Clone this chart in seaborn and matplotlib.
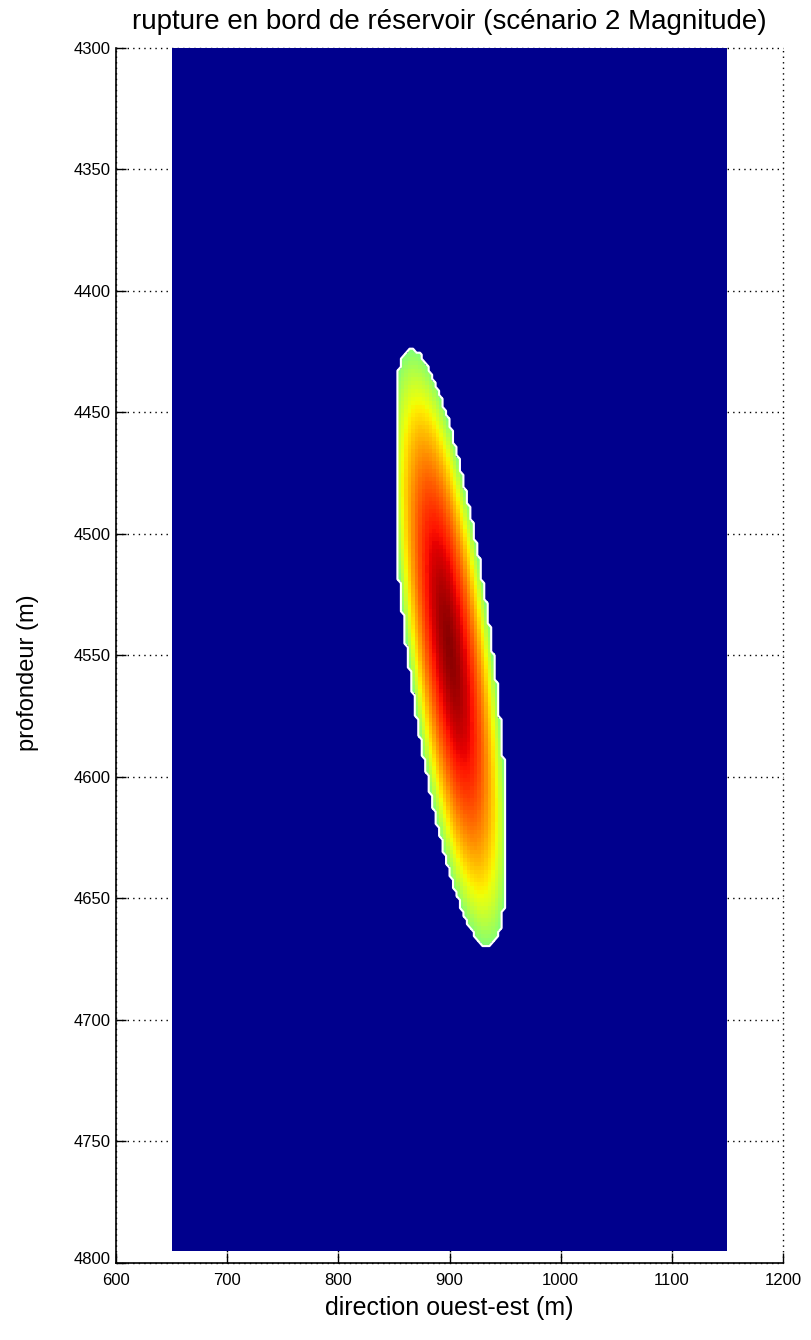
import numpy as np
import matplotlib
matplotlib.use("Agg")
import matplotlib.pyplot as plt
import matplotlib.transforms as mtransforms
import seaborn as sns

# axis ranges and ticks
x_ticks = [600, 700, 800, 900, 1000, 1100, 1200]
y_ticks = [4300, 4350, 4400, 4450, 4500, 4550, 4600, 4650, 4700, 4750, 4800]

# extent of the modelled block (m)
grid_x = [650, 1150]
grid_y = [4300, 4795]
cell_dx = 3.125
cell_dy = 1.65

# rupture ellipse
rupture_center = [900, 4547]      # x (m), depth (m)
rupture_half_len = 128            # along strike
rupture_half_wid = 37             # across
rupture_tilt_deg = 17             # from vertical
rupture_x_clip = [853, 951]
edge_value = 0.5                  # light green at the rim
peak_value = 0.99                 # dark red in the core
falloff_power = 1.7

sns.set_theme(style="white")
plt.rcParams['font.family'] = ['Liberation Sans', 'DejaVu Sans']
plt.rcParams['text.color'] = 'black'
plt.rcParams['axes.labelcolor'] = 'black'

xe = np.arange(grid_x[0], grid_x[1] + cell_dx / 2, cell_dx)
ye = np.arange(grid_y[0], grid_y[1] + cell_dy / 2, cell_dy)
xc = (xe[:-1] + xe[1:]) / 2
yc = (ye[:-1] + ye[1:]) / 2
X, Y = np.meshgrid(xc, yc)

th = np.deg2rad(rupture_tilt_deg)
dx = X - rupture_center[0]
dy = Y - rupture_center[1]
a = dx * np.sin(th) + dy * np.cos(th)
b = dx * np.cos(th) - dy * np.sin(th)
r = np.sqrt((a / rupture_half_len) ** 2 + (b / rupture_half_wid) ** 2)
inside = (r < 1) & (X > rupture_x_clip[0]) & (X < rupture_x_clip[1])
field = np.where(inside, peak_value - (peak_value - edge_value) * r ** falloff_power, 0.0)

fig = plt.figure(figsize=(8.12, 13.4), dpi=100)
ax = fig.add_axes([0.1429, 0.0575, 0.8214, 0.9067])

ax.grid(True, color='black', linestyle=(0, (1, 3)), linewidth=1.0, zorder=0)
ax.set_axisbelow(True)
ax.pcolormesh(xe, ye, field, cmap='jet', vmin=-0.014, vmax=1.0, zorder=1)
ax.contour(xc, yc, inside.astype(float), levels=[0.5], colors='white', linewidths=1.5, zorder=2)

ax.set_xlim(600, 1200)
ax.set_ylim(4800, 4300)
ax.set_xticks(x_ticks)
ax.set_yticks(y_ticks)
ax.tick_params(direction='in', length=7, width=1, labelsize=12, colors='black',
               left=True, bottom=True, top=False, right=False)
ax.tick_params(axis='x', pad=7)
ax.tick_params(axis='y', pad=4)
for s in ['top', 'right']:
    ax.spines[s].set_visible(False)
for s in ['left', 'bottom']:
    ax.spines[s].set_color('black')
    ax.spines[s].set_linewidth(1.2)
for gl in ax.get_xgridlines() + ax.get_ygridlines():
    gl.set_clip_on(False)

# lift the bottom depth label a little, as in the original
last = ax.get_yticklabels()[-1]
last.set_transform(last.get_transform() + mtransforms.ScaledTranslation(0, 5 / 100, fig.dpi_scale_trans))

ax.set_title("rupture en bord de réservoir (scénario 2 Magnitude)", fontsize=20, pad=14, color='black')
ax.set_xlabel("direction ouest-est (m)", fontsize=18, labelpad=6)
ax.set_ylabel("profondeur (m)", fontsize=17)
ax.yaxis.set_label_coords(-0.116, 0.486)

plt.savefig('out.png', dpi=100)
